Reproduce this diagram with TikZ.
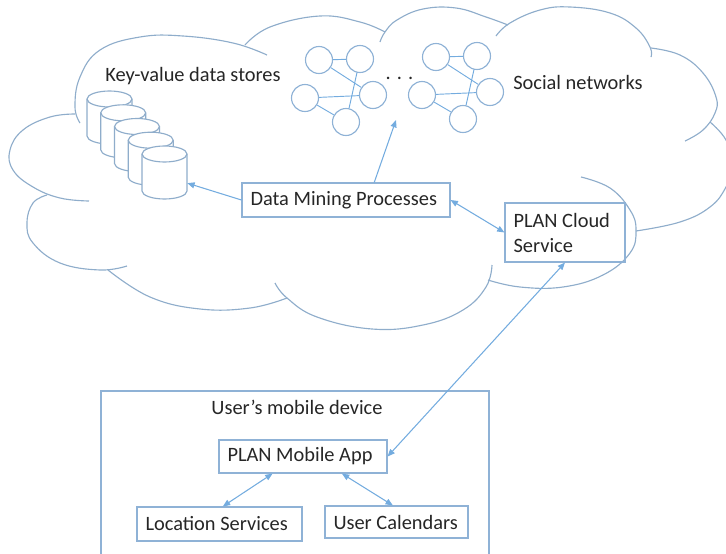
\documentclass[tikz,border=0pt]{standalone}
\usepackage{fontspec}
\setmainfont{Carlito}
\usetikzlibrary{arrows.meta,calc}
\definecolor{cloudline}{HTML}{8FADCB}
\definecolor{boxline}{HTML}{8FB2D6}
\definecolor{arrowline}{HTML}{74ACDF}
\definecolor{inktext}{HTML}{262626}
\def\px{0.75pt}
\tikzset{
  lobe/.style={draw=cloudline,line width=0.85pt},
  drum/.style={draw=cloudline,line width=0.85pt,fill=white},
  pbox/.style n args={2}{draw=boxline,line width=0.85pt,rectangle,inner ysep=0pt,inner xsep=8.5*\px,
    text width=(#1-17)*\px,minimum height=#2*\px,align=left,text=inktext,
    execute at begin node={\spaceskip=0pt\xspaceskip=0pt}},
  lbl/.style={text=inktext,inner sep=0pt},
  peer/.style={circle,draw=boxline,line width=0.85pt,minimum size=27*\px,inner sep=0pt,fill=white},
  tie/.style={draw=arrowline,line width=0.7pt},
  flow/.style={draw=arrowline,line width=0.8pt,-{Triangle[length=5.5pt,width=4.5pt]}},
  flowboth/.style={draw=arrowline,line width=0.8pt,{Triangle[length=5.5pt,width=4.5pt]}-{Triangle[length=5.5pt,width=4.5pt]}}
}
\newcommand\storedrum[3]{%
  \node[inner sep=0pt,minimum width=45*\px,minimum height=53*\px] (#1) at (#2,#3) {};
  \begin{scope}[shift={(#2,#3)}]
    \draw[drum] (-22.5,-19) -- (-22.5,18) .. controls (-22.5,22.4) and (-12.4,26) .. (0,26)
      .. controls (12.4,26) and (22.5,22.4) .. (22.5,18) -- (22.5,-19)
      .. controls (22.5,-23.4) and (12.4,-27) .. (0,-27)
      .. controls (-12.4,-27) and (-22.5,-23.4) .. (-22.5,-19) -- cycle;
    \draw[lobe] (-22.5,-19) .. controls (-22.5,-14.6) and (-12.4,-11) .. (0,-11)
      .. controls (12.4,-11) and (22.5,-14.6) .. (22.5,-19);
  \end{scope}
}
\begin{document}
\begin{tikzpicture}[x=0.75pt,y=-0.75pt,font=\fontsize{15.3pt}{18.75pt}\selectfont]
\useasboundingbox (0,0) rectangle (726,554);
\clip (0,0) rectangle (726,554);
% cloud
\draw[lobe] plot[smooth,tension=.7] coordinates {(80,123)(75,107)(80,77)(100,50)(140,37)(183,36)(233,43)(267,55)};
\draw[lobe] plot[smooth,tension=.7] coordinates {(245,45)(270,27)(320,16)(360,22)(385,32)};
\draw[lobe] plot[smooth,tension=.7] coordinates {(380,42)(385,32)(397,20)(423,9)(456,8)(486,17)(508,25)};
\draw[lobe] plot[smooth,tension=.7] coordinates {(496,36)(510,23)(540,10)(570,7)(610,13)(636,28)(650,47)(651,57)};
\draw[lobe] plot[smooth,tension=.7] coordinates {(651,48)(680,55)(703,73)(716,97)(715,113)(703,130)(685,141)};
\draw[lobe] plot[smooth,tension=.7] coordinates {(710,122)(726,140)(733,165)(726,187)(710,207)(680,222)(636,231)};
\draw[lobe] plot[smooth,tension=.7] coordinates {(581,177)(610,188)(630,210)(636,230)(630,253)(603,275)(563,287)(520,287)(488,280)};
\draw[lobe] plot[smooth,tension=.7] coordinates {(492,265)(486,287)(463,310)(423,325)(372,329)(317,317)(287,298)(275,283)};
\draw[lobe] plot[smooth,tension=.7] coordinates {(287,298)(250,308)(200,309)(150,297)(108,270)};
\draw[lobe] plot[smooth,tension=.7] coordinates {(127,266)(100,270)(60,263)(33,243)(27,223)(33,203)(47,195)};
\draw[lobe] plot[smooth,tension=.7] coordinates {(89,201)(60,198)(33,187)(13,170)(10,150)(23,130)(50,117)(75,114)};
% key-value stores
\storedrum{c1}{109.5}{118}
\storedrum{c2}{123.2}{131.8}
\storedrum{c3}{137}{145.5}
\storedrum{c4}{150.7}{159.2}
\storedrum{c5}{164.5}{173}
\node[lbl,anchor=west] (kv) at (105,76) {Key-value data stores};
% social graphs
\foreach \n/\xx/\yy in {a1/319/60,a2/360/59,a3/373/95,a4/305/98,a5/346/122,b1/436/57,b2/477/56,b3/490/92,b4/422/95,b5/463/119}
  \node[peer] (\n) at (\xx,\yy) {};
\foreach \g in {a,b}{
  \draw[tie] (\g1) -- (\g2);
  \draw[tie] (\g1) -- (\g3);
  \draw[tie] (\g2) -- (\g5);
  \draw[tie] (\g4) -- (\g3);
  \draw[tie] (\g4) -- (\g5);
}
\node[lbl] (dots) at (399.5,78) {. . .};
\node[lbl,anchor=west] (sn) at (513,82) {Social networks};
% boxes
\node[pbox={208}{34}] (dm) at (346,200) {Data Mining Processes};
\node[pbox={120}{59}] (cs) at (565,232.5) {PLAN Cloud\\Service};
\node[draw=boxline,line width=0.85pt,rectangle,minimum width=388*\px,minimum height=190*\px,inner sep=0pt] (dev) at (295,486) {};
\node[lbl] (devl) at (297,407) {User’s mobile device};
\node[pbox={168}{33}] (app) at (303,456.5) {PLAN Mobile App};
\node[pbox={165}{34}] (loc) at (219.5,524) {Location Services};
\node[pbox={143}{32}] (cal) at (396.5,522) {User Calendars};
% connectors
\draw[flow] (dm.west) -- (c5.-24);
\coordinate (uptip) at (396,120);
\draw[flow] ($(dm.north west)!.635!(dm.north east)$) -- (uptip);
\draw[flowboth] (dm.east) -- (cs.west);
\draw[flowboth] (cs.south) -- (app.east);
\draw[flowboth] ($(app.south west)!.32!(app.south east)$) -- ($(loc.north west)!.52!(loc.north east)$);
\draw[flowboth] ($(app.south west)!.73!(app.south east)$) -- ($(cal.north west)!.475!(cal.north east)$);
\end{tikzpicture}
\end{document}
